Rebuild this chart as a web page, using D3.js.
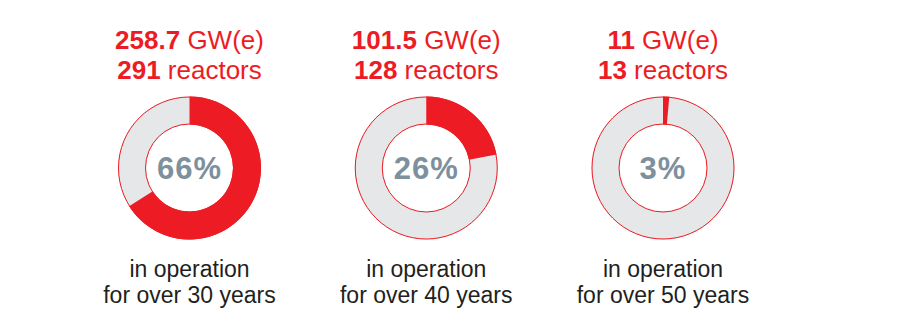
<!DOCTYPE html>
<html>
<head>
<meta charset="utf-8">
<script src="https://cdn.jsdelivr.net/npm/d3@7"></script>
<style>
  html, body { margin: 0; padding: 0; background: #fff; }
  svg { display: block; font-family: "Liberation Sans", Arial, sans-serif; }
</style>
</head>
<body>
<svg id="chart" width="906" height="330"></svg>
<script>
// Values
const capacities = ['258.7', '101.5', '11'];
const reactorCounts = ['291', '128', '13'];
const percentLabels = [66, 26, 3];
// share of the ring actually painted red in the picture
const arcShares = [66, 22, 1.4];
const ageLabels = ['for over 30 years', 'for over 40 years', 'for over 50 years'];

const red = '#ed1c24';
const grey = '#e6e7e8';

const data = capacities.map((c, i) => ({
  capacity: c,
  reactors: reactorCounts[i],
  pct: percentLabels[i],
  share: arcShares[i],
  age: ageLabels[i]
}));

const svg = d3.select('#chart');

// Panel positions along the x axis
const x = d3.scalePoint()
  .domain(d3.range(data.length))
  .range([189.5, 663]);

const outerR = 71.5;
const innerR = 43.5;
const cy = 168;

const angle = d3.scaleLinear().domain([0, 100]).range([0, 2 * Math.PI]);
const arc = d3.arc().innerRadius(innerR).outerRadius(outerR);

const g = svg.selectAll('g.panel')
  .data(data)
  .join('g')
  .attr('class', 'panel')
  .attr('transform', (d, i) => `translate(${x(i)},0)`);

// Title lines
const t1 = g.append('text')
  .attr('y', 49)
  .attr('text-anchor', 'middle')
  .attr('font-size', 26)
  .attr('fill', red);
t1.append('tspan').attr('font-weight', 'bold').text(d => d.capacity);
t1.append('tspan').text(' GW(e)');

const t2 = g.append('text')
  .attr('y', 79)
  .attr('text-anchor', 'middle')
  .attr('font-size', 26)
  .attr('fill', red);
t2.append('tspan').attr('font-weight', 'bold').text(d => d.reactors);
t2.append('tspan').text(' reactors');

// Donut
const donut = g.append('g').attr('transform', `translate(0,${cy})`);
donut.append('path')
  .attr('d', arc({ startAngle: 0, endAngle: 2 * Math.PI }))
  .attr('fill', grey);
donut.append('path')
  .attr('d', d => arc({ startAngle: 0, endAngle: angle(d.share) }))
  .attr('fill', red);
donut.append('circle').attr('r', outerR - 0.5)
  .attr('fill', 'none').attr('stroke', red).attr('stroke-width', 1);
donut.append('circle').attr('r', innerR + 0.5)
  .attr('fill', 'none').attr('stroke', red).attr('stroke-width', 1);

donut.append('text')
  .attr('y', 11)
  .attr('text-anchor', 'middle')
  .attr('font-size', 31)
  .attr('font-weight', 'bold')
  .attr('letter-spacing', 1)
  .attr('fill', '#7d909c')
  .text(d => d.pct + '%');

// Caption
g.append('text')
  .attr('y', 277)
  .attr('text-anchor', 'middle')
  .attr('font-size', 23)
  .attr('fill', '#231f20')
  .text('in operation');
g.append('text')
  .attr('y', 303)
  .attr('text-anchor', 'middle')
  .attr('font-size', 23)
  .attr('fill', '#231f20')
  .text(d => d.age);
</script>
</body>
</html>
